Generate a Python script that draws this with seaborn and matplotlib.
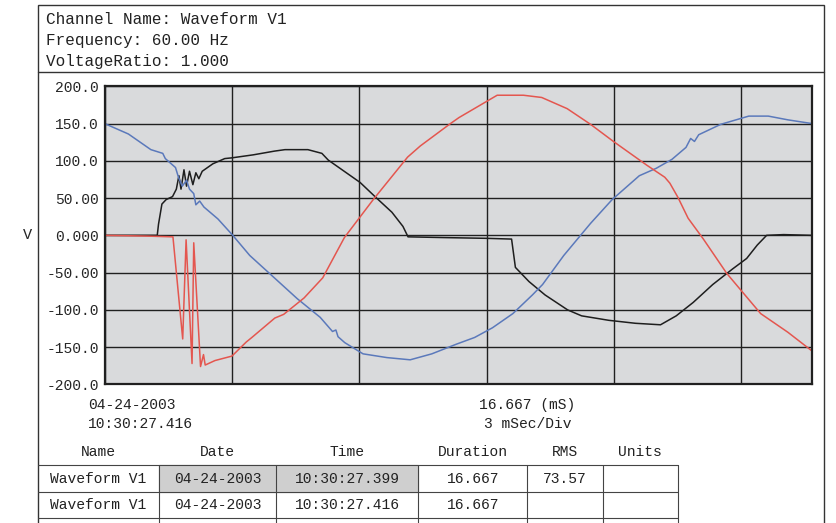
import numpy as np
import pandas as pd
import seaborn as sns
import matplotlib.pyplot as plt
from matplotlib.patches import Rectangle
from matplotlib.lines import Line2D

# values (time in ms, voltage in V)
t_blue = [0, 0.56, 1.09, 1.37, 1.43, 1.67, 1.74, 1.83, 1.93, 2.0, 2.10, 2.15, 2.24, 2.34,
          2.67, 3.02, 3.42, 3.98, 4.54, 5.08, 5.37, 5.45, 5.5, 5.66, 6.09, 6.65, 7.2, 7.71,
          8.29, 8.72, 9.14, 9.62, 10.08, 10.32, 10.82, 11.45, 11.96, 12.6, 13.0, 13.37,
          13.7, 13.81, 13.9, 14.0, 14.52, 15.18, 15.64, 16.1, 16.667]
v_blue = [150, 136, 115, 110, 103, 91, 78, 66, 74, 62, 56, 41, 46, 38,
          22, 0, -27, -56, -85, -110, -129, -127, -136, -144, -159, -164, -167, -159,
          -146, -137, -124, -105, -80, -66, -27, 16, 48, 80, 90, 102,
          118, 130, 126, 135, 149, 160, 160, 155, 150]

t_red = [0, 1.0, 1.61, 1.84, 1.92, 2.06, 2.10, 2.26, 2.33, 2.37, 2.6, 3.0, 3.34, 3.47,
         4.01, 4.22, 4.7, 5.14, 5.65, 6.33, 7.14, 7.44, 8.15, 8.35, 9.25, 9.87, 10.3, 10.9,
         11.45, 11.99, 12.78, 13.2, 13.32, 13.51, 13.75, 14.11, 14.66, 15.03, 15.46,
         16.1, 16.667]
v_red = [0, -1, -2, -139, -6, -172, -10, -176, -160, -174, -168, -162, -143, -137,
         -111, -106, -84, -57, -3, 48, 105, 120, 150, 158, 188, 188, 185, 170,
         149, 126, 94, 78, 70, 51, 23, -5, -51, -76, -105,
         -130, -155]

t_black = [0, 1.24, 1.27, 1.35, 1.45, 1.6, 1.69, 1.75, 1.8, 1.87, 1.93, 2.0, 2.08, 2.15,
           2.22, 2.3, 2.45, 2.55, 2.83, 3.0, 3.5, 4.0, 4.25, 4.79, 5.12, 5.27, 5.67, 6.02,
           6.39, 6.77, 7.03, 7.15, 8.0, 9.0, 9.59, 9.68, 10.0, 10.38, 10.91, 11.24, 11.88,
           12.51, 13.1, 13.47, 13.87, 14.33, 14.8, 15.13, 15.38, 15.6, 16.0, 16.667]
v_black = [0, 0, 15, 42, 48, 52, 62, 80, 62, 88, 66, 86, 68, 84,
           76, 86, 92, 96, 103, 104, 108, 113, 115, 115, 110, 101, 85, 71,
           51, 31, 12, -2, -3, -4, -5, -43, -62, -80, -100, -108, -114,
           -118, -120, -108, -90, -66, -45, -31, -13, 0, 1, 0]

y_ticks = [200, 150, 100, 50, 0, -50, -100, -150, -200]
y_labels = ['200.0', '150.0', '100.0', '50.00', '0.000', '-50.00', '-100.0', '-150.0', '-200.0']
x_ticks = [0, 3, 6, 9, 12, 15]

header = ['Channel Name: Waveform V1', 'Frequency: 60.00 Hz', 'VoltageRatio: 1.000']
tbl_cols = ['Name', 'Date', 'Time', 'Duration', 'RMS', 'Units']
tbl_rows = [['Waveform V1', '04-24-2003', '10:30:27.399', '16.667', '73.57', ''],
            ['Waveform V1', '04-24-2003', '10:30:27.416', '16.667', '', '']]

sns.set_theme(style='white')
plt.rcParams['font.family'] = ['Liberation Mono', 'DejaVu Sans Mono']

fig = plt.figure(figsize=(8.37, 5.23), dpi=100, facecolor='white')
ax = fig.add_axes([0.125, 0.265, 0.845, 0.57])
ax.set_facecolor('#d9dadc')

sns.lineplot(x=t_black, y=v_black, ax=ax, color='#1e1e1e', lw=1.1, estimator=None)
sns.lineplot(x=t_blue, y=v_blue, ax=ax, color='#5b79bb', lw=1.1, estimator=None)
sns.lineplot(x=t_red, y=v_red, ax=ax, color='#e4564f', lw=1.1, estimator=None)

ax.set_xlim(0, 16.667)
ax.set_ylim(-200, 200)
ax.set_xticks(x_ticks)
ax.set_xticklabels([])
ax.set_yticks(y_ticks)
ax.set_yticklabels(y_labels, fontsize=10.5)
ax.grid(True, color='#202020', lw=1.0)
ax.set_axisbelow(True)
ax.tick_params(axis='both', length=0, pad=4)
for s in ax.spines.values():
    s.set_color('#202020')
    s.set_linewidth(1.6)
ax.set_ylabel('V', rotation=0, fontsize=11, labelpad=14, va='center')

# page frame and header box
fig.add_artist(Rectangle((0.045, -0.1), 0.94, 1.09, transform=fig.transFigure,
                         fill=False, ec='#333333', lw=1.0))
fig.add_artist(Line2D([0.045, 0.985], [0.862, 0.862], transform=fig.transFigure,
                      color='#333333', lw=1.0))
for i, h in enumerate(header):
    fig.text(0.055, 0.963 - i * 0.04, h, fontsize=11.5, va='center', color='#222222')

fig.text(0.105, 0.225, '04-24-2003', fontsize=10.5, va='center', color='#222222')
fig.text(0.105, 0.19, '10:30:27.416', fontsize=10.5, va='center', color='#222222')
fig.text(0.63, 0.225, '16.667 (mS)', fontsize=10.5, va='center', ha='center', color='#222222')
fig.text(0.63, 0.19, '3 mSec/Div', fontsize=10.5, va='center', ha='center', color='#222222')

# summary table, cut by the bottom edge like the printed page
col_x = [0.045, 0.19, 0.33, 0.5, 0.63, 0.72, 0.81]
ty0, rh = 0.135, 0.05
for j, c in enumerate(tbl_cols):
    fig.text((col_x[j] + col_x[j + 1]) / 2, ty0, c, fontsize=10.5, ha='center',
             va='center', color='#222222')
for i, row in enumerate(tbl_rows):
    y = ty0 - (i + 1) * rh
    if i == 0:
        fig.add_artist(Rectangle((col_x[1], y - rh / 2), col_x[3] - col_x[1], rh,
                                 transform=fig.transFigure, color='#cfcfcf', zorder=0))
    for j, c in enumerate(row):
        fig.text((col_x[j] + col_x[j + 1]) / 2, y, c, fontsize=10.5, ha='center',
                 va='center', color='#222222')
for i in range(len(tbl_rows) + 1):
    y = ty0 - (i + 0.5) * rh
    fig.add_artist(Line2D([col_x[0], col_x[-1]], [y, y], transform=fig.transFigure,
                          color='#444444', lw=0.8))
for xx in col_x[1:]:
    fig.add_artist(Line2D([xx, xx], [ty0 - 0.5 * rh, 0.0], transform=fig.transFigure,
                          color='#444444', lw=0.8))

plt.savefig('out.png', dpi=100)
